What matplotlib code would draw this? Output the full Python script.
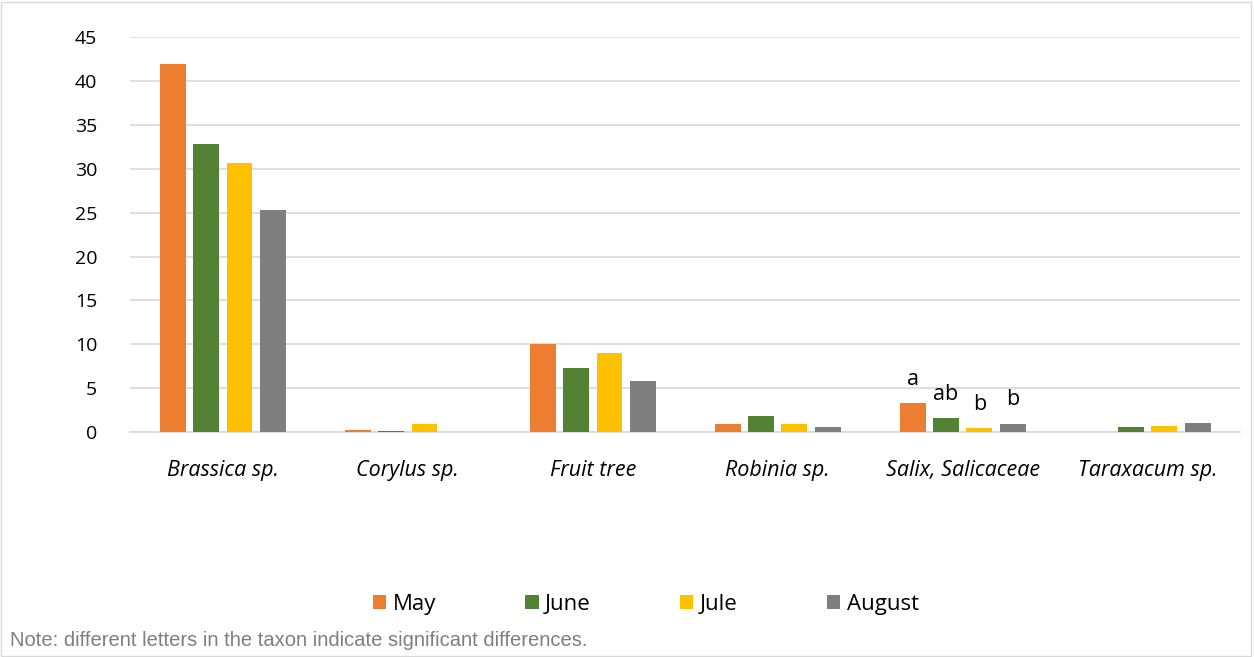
import matplotlib
matplotlib.use("Agg")
import matplotlib.pyplot as plt
import numpy as np
from matplotlib.patches import Rectangle

categories = ["Brassica sp.", "Corylus sp.", "Fruit tree", "Robinia sp.", "Salix, Salicaceae", "Taraxacum sp."]
series = ["May", "June", "Jule", "August"]
may = [41.9, 0.3, 10.0, 1.0, 3.3, 0.05]
june = [32.8, 0.2, 7.3, 1.8, 1.6, 0.6]
jule = [30.6, 1.0, 9.0, 0.9, 0.5, 0.7]
august = [25.3, 0.0, 5.8, 0.6, 1.0, 1.1]
colors = ["#ED7D31", "#548235", "#FFC000", "#7F7F7F"]
salix_letters = ["a", "ab", "b", "b"]
yticks = [0, 5, 10, 15, 20, 25, 30, 35, 40, 45]

plt.rcParams['font.family'] = ['Open Sans', 'DejaVu Sans']
fig = plt.figure(figsize=(12.54, 6.57), dpi=100)
fig.patches.append(Rectangle((0.001, 0.002), 0.997, 0.995, transform=fig.transFigure,
                             fill=False, edgecolor="#D9D9D9", linewidth=1))
ax = fig.add_axes([0.104, 0.342, 0.885, 0.602])

x = np.arange(len(categories))
w = 0.14
step = 0.18
data = [may, june, jule, august]
for i, (vals, c, lab) in enumerate(zip(data, colors, series)):
    ax.bar(x + (i - 1.5) * step, vals, width=w, color=c, label=lab, zorder=3)

si = categories.index("Salix, Salicaceae")
for i, (vals, letter) in enumerate(zip(data, salix_letters)):
    ax.text(si + (i - 1.5) * step, vals[si] + 1.5, letter, ha="center", va="bottom", fontsize=15.5)

ax.set_xlim(-0.5, len(categories) - 0.5)
ax.set_ylim(0, 45)
ax.set_yticks(yticks)
ax.yaxis.grid(True, color="#D9D9D9", linewidth=1.2, zorder=0)
ax.set_xticks(x)
ax.set_xticklabels(categories, style="italic", fontsize=15.5)
ax.tick_params(axis="y", labelsize=14, length=0, pad=24)
ax.tick_params(axis="x", length=0, pad=20)
for s in ["top", "right", "left"]:
    ax.spines[s].set_visible(False)
ax.spines["bottom"].set_color("#D9D9D9")
ax.spines["bottom"].set_linewidth(1.2)

fig.legend(loc="center", bbox_to_anchor=(0.515, 0.08), ncol=4, frameon=False,
           fontsize=16, handlelength=0.6, handleheight=0.6, columnspacing=4.0, handletextpad=0.3)
fig.text(0.008, 0.016, "Note: different letters in the taxon indicate significant differences.",
         fontsize=14.5, color="#7F7F7F", family=["Liberation Sans", "DejaVu Sans"])

fig.savefig("out.png", dpi=100)
